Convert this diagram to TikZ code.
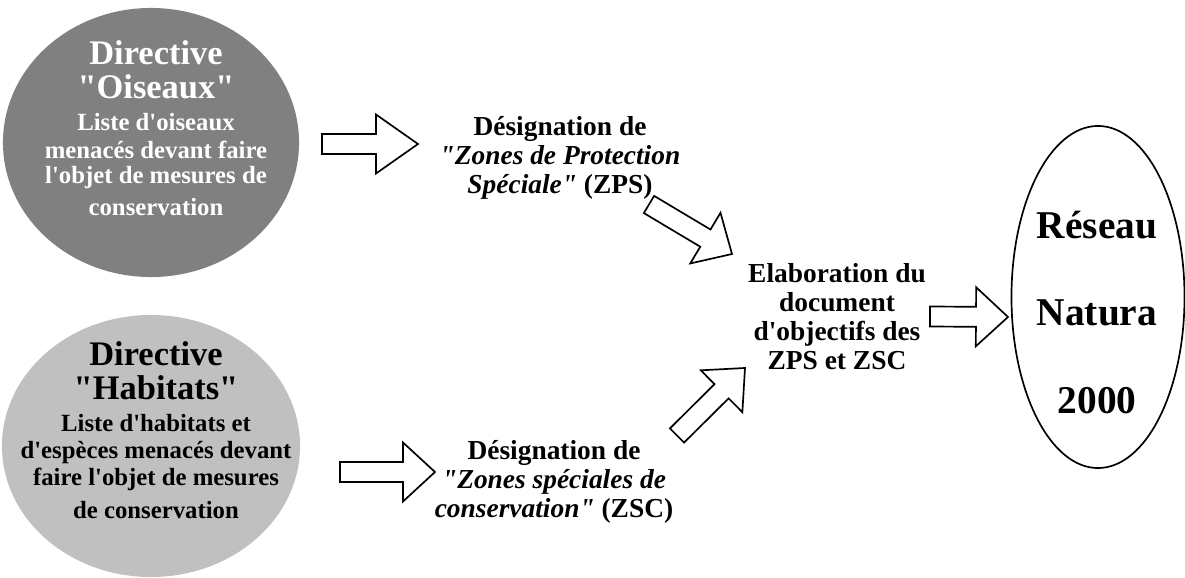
\documentclass[tikz,border=0pt]{standalone}
\usepackage{fontspec}
\newfontfamily\diagfont{Liberation Serif}
\usetikzlibrary{positioning, calc, shapes.geometric}

\definecolor{oiseauxgray}{RGB}{128,128,128}
\definecolor{habitatsgray}{RGB}{192,192,192}

\tikzset{
  bubble/.style={ellipse, inner sep=0pt, draw=none},
  bubbletext/.style={align=center, inner sep=0pt,
    font=\diagfont\bfseries\fontsize{17.6}{19.8}\selectfont},
  steptext/.style={align=center, inner sep=0pt,
    font=\diagfont\bfseries\fontsize{19.5}{20.6}\selectfont},
  arrowbox/.style={draw=black, fill=white, line width=1.2pt, line join=miter},
}
\newcommand{\bigline}{\fontsize{24.5}{25}\selectfont}
% block arrow from #2 to #3, #1 = length of the head
\newcommand{\blockarrow}[3][0.825cm]{%
  \draw[arrowbox] let \p1=($(#3)-(#2)$), \n1={atan2(\y1,\x1)} in
    ($(#2)+({\n1+90}:0.25cm)$)
    -- ($(#3)+({\n1+180}:#1)+({\n1+90}:0.25cm)$)
    -- ($(#3)+({\n1+180}:#1)+({\n1+90}:0.7375cm)$)
    -- (#3)
    -- ($(#3)+({\n1+180}:#1)+({\n1-90}:0.7375cm)$)
    -- ($(#3)+({\n1+180}:#1)+({\n1-90}:0.25cm)$)
    -- ($(#2)+({\n1-90}:0.25cm)$) -- cycle;}

\begin{document}
\begin{tikzpicture}[x=0.025cm, y=-0.025cm]
  \useasboundingbox (0,0) rectangle (1185,578);

  % the two directives
  \node[bubble, fill=oiseauxgray, minimum width=7.4cm, minimum height=6.725cm] (oiseaux) at (151,142.5) {};
  \node[bubbletext, text=white] (oiseauxtxt) at (156,128.5)
    {\bigline Directive\\[4.5pt] \bigline "Oiseaux"\\[2.5pt] Liste d'oiseaux\\ menacés devant faire\\[-1.5pt] l'objet de mesures de\\[3pt] conservation};
  \node[bubble, fill=habitatsgray, minimum width=7.45cm, minimum height=6.55cm] (habitats) at (151,446) {};
  \node[bubbletext] (habitatstxt) at (156,430)
    {\bigline Directive\\[4.5pt] \bigline "Habitats"\\[2.5pt] Liste d'habitats et\\ d'espèces menacés devant\\[-1pt] faire l'objet de mesures\\[3.5pt] de conservation};

  % designations and document
  \node[steptext] (zps) at (560,158) {Désignation de\\ {\itshape "Zones de Protection}\\ {\itshape Spéciale"} (ZPS)};
  \node[steptext] (zsc) at (554,482) {Désignation de\\ {\itshape "Zones spéciales de}\\ {\itshape conservation"} (ZSC)};
  \node[steptext] (docob) at (837,317) {Elaboration du\\ document\\ d'objectifs des\\ ZPS et ZSC};

  % network
  \node[draw, ellipse, line width=1.2pt, inner sep=0pt, minimum width=4.325cm, minimum height=8.55cm] (reseau) at (1098,297) {};
  \node[align=center, inner sep=0pt, font=\diagfont\bfseries\fontsize{28}{62.4}\selectfont] (reseautxt) at (1097,312.5) {Réseau\\ Natura\\ 2000};

  % arrow ends
  \coordinate (oisout) at (322,144);
  \coordinate (zpsin) at (418,144);
  \coordinate (habout) at (340,472);
  \coordinate (zscin) at (435,472);
  \coordinate (zpsout) at (649,204.5);
  \coordinate (docin1) at (732,254);
  \coordinate (zscout) at (677,435.5);
  \coordinate (docin2) at (745,368);
  \coordinate (docout) at (930,316.5);
  \coordinate (resin) at (1008,317);

  \blockarrow[1.05cm]{oisout}{zpsin}
  \blockarrow[0.8cm]{habout}{zscin}
  \blockarrow[0.775cm]{zpsout}{docin1}
  \blockarrow{zscout}{docin2}
  \blockarrow[0.8cm]{docout}{resin}
\end{tikzpicture}
\end{document}
